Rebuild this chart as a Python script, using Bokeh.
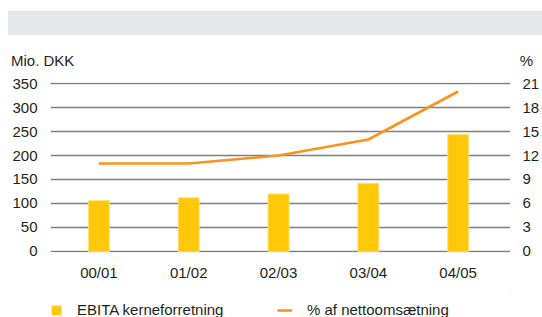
from bokeh.plotting import figure
from bokeh.models import (Range1d, LinearAxis, Legend, LegendItem, Div,
                          FixedTicker, ColumnDataSource)
from bokeh.layouts import column
from bokeh.embed import file_html
from bokeh.resources import INLINE

categories = ["00/01", "01/02", "02/03", "03/04", "04/05"]
ebita = [106, 112, 120, 142, 244]
pct = [11.0, 11.0, 12.0, 14.0, 20.0]
left_ticks = [0, 50, 100, 150, 200, 250, 300, 350]
right_ticks = [0, 3, 6, 9, 12, 15, 18, 21]

FONT = "Liberation Sans"
TXT = "#231f20"
BAR = "#ffc90a"
LINE = "#f7931e"

xs = list(range(len(categories)))
src = ColumnDataSource(dict(x=xs, ebita=ebita, pct=pct))

p = figure(width=534, height=218, output_backend="svg", toolbar_location=None,
           x_range=Range1d(-0.539, 4.583), y_range=Range1d(-2.1, 352.1),
           min_border_left=42, min_border_right=31, min_border_top=8,
           min_border_bottom=40, outline_line_color=None, y_axis_location=None,
           margin=(0, 0, 0, 8))
p.extra_y_ranges = {"pct": Range1d(-2.1 * 21 / 350, 352.1 * 21 / 350)}

p.xgrid.visible = False
p.ygrid.ticker = FixedTicker(ticks=left_ticks)
p.ygrid.grid_line_color = "#7f7f7f"
p.ygrid.grid_line_width = 1.3

bar_style = dict(fill_color=BAR, line_color="#ffe27a", line_width=0.8)
line_style = dict(line_color=LINE, line_width=2.6)

p.vbar(x="x", top="ebita", width=0.233, source=src, **bar_style)
p.line(x="x", y="pct", source=src, y_range_name="pct", **line_style)

def style(ax):
    ax.axis_line_color = None
    ax.major_tick_line_color = None
    ax.minor_tick_line_color = None
    ax.major_tick_out = 0
    ax.major_tick_in = 0
    ax.minor_tick_out = 0
    ax.minor_tick_in = 0
    ax.major_label_text_font = FONT
    ax.major_label_text_font_size = "15px"
    ax.major_label_text_color = TXT

la = LinearAxis(ticker=FixedTicker(ticks=left_ticks))
style(la)
la.major_label_standoff = 13
p.add_layout(la, "left")

ra = LinearAxis(y_range_name="pct", ticker=FixedTicker(ticks=right_ticks))
style(ra)
ra.major_label_standoff = 12
p.add_layout(ra, "right")

xa = p.xaxis[0]
xa.ticker = FixedTicker(ticks=xs)
xa.major_label_overrides = {i: c for i, c in enumerate(categories)}
style(xa)
xa.major_label_standoff = 11

# legend strip (separate canvas so the legend is not clipped by the chart frame);
# its renderers reuse the chart data but lie outside this strip's visible range.
# Its frame is aligned with the chart's frame by the column layout.
lf = figure(width=534, height=25, output_backend="svg", toolbar_location=None,
            x_range=Range1d(-100, -99), y_range=Range1d(-100, -99),
            min_border_left=0, min_border_right=0, min_border_top=0,
            min_border_bottom=0, outline_line_color=None,
            x_axis_location=None, y_axis_location=None, margin=(0, 0, 0, 8))
lf.grid.visible = False
lbar = lf.vbar(x="x", top="ebita", width=0.233, source=src, **bar_style)
lline = lf.line(x="x", y="pct", source=src, **line_style)

def mk_legend(item, loc, gw, so):
    lg = Legend(items=[item], location=loc, orientation="horizontal",
                glyph_width=gw, glyph_height=12, label_standoff=so,
                label_height=12, label_width=10,
                label_text_font=FONT, label_text_font_size="15px",
                label_text_color=TXT, padding=0, margin=0, spacing=0,
                border_line_color=None, background_fill_alpha=0)
    lf.add_layout(lg, "center")

mk_legend(LegendItem(label="EBITA kerneforretning", renderers=[lbar]), (0, -1), 12, 15)
mk_legend(LegendItem(label="% af nettoomsætning", renderers=[lline]), (227, -1), 15, 15)

band = Div(width=534, height=24, margin=(11, 0, 0, 8),
           styles={"background-color": "#e6e7e8"})

hdr = Div(width=534, height=39, margin=(0, 0, 0, 8),
          styles={"font-family": FONT, "font-size": "15px", "color": TXT},
          text=('<div style="position:relative;width:534px;height:39px;">'
                '<span style="position:absolute;left:3px;top:17px;line-height:18px;">Mio. DKK</span>'
                '<span style="position:absolute;right:9px;top:17px;line-height:18px;">%</span>'
                '</div>'))

layout = column(band, hdr, p, lf, spacing=0)
open("out.html", "w").write(file_html(layout, INLINE))
